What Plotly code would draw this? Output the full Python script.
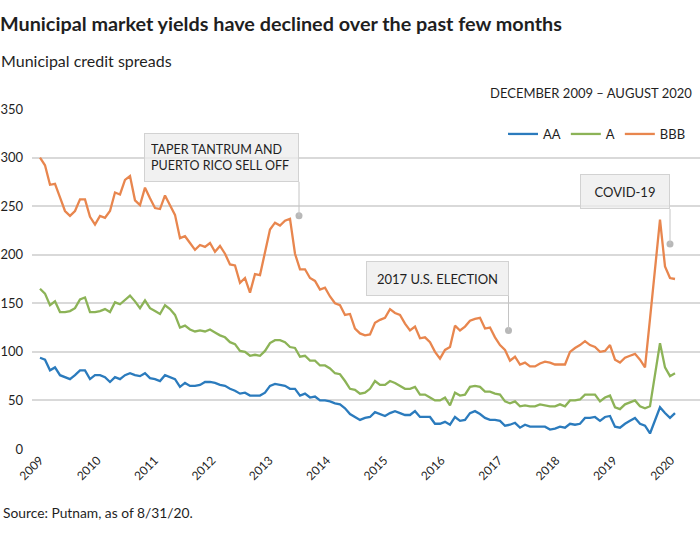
import plotly.graph_objects as go

# ---- data (monthly spreads, bps) ----
aa = [94, 92, 81, 84, 76, 74, 72, 76, 81, 81,
      72, 76, 76, 74, 69, 74, 72, 76, 78, 76,
      75, 78, 73, 72, 70, 76, 74, 72, 64, 68,
      65, 65, 66, 69, 69, 68, 66, 65, 62, 60,
      57, 58, 55, 55, 55, 58, 65, 67, 66, 65,
      62, 62, 55, 57, 53, 54, 50, 50, 49, 47,
      46, 42, 36, 33, 30, 32, 33, 38, 36, 34,
      37, 39, 37, 35, 35, 39, 33, 33, 33, 26,
      26, 28, 25, 33, 29, 30, 37, 39, 36, 32,
      30, 30, 29, 24, 25, 27, 22, 25, 23, 23,
      23, 23, 20, 21, 23, 22, 26, 25, 26, 32,
      32, 33, 29, 33, 34, 23, 22, 26, 29, 32,
      26, 24, 16, 30, 43, 37, 32, 37]
a = [165, 160, 148, 152, 141, 141, 142, 145, 154, 156,
     141, 141, 142, 144, 141, 151, 149, 154, 158, 152,
     145, 153, 145, 142, 139, 148, 144, 138, 125, 127,
     123, 121, 122, 121, 123, 120, 117, 115, 110, 108,
     101, 100, 96, 97, 96, 101, 109, 112, 112, 110,
     105, 104, 95, 96, 91, 91, 86, 86, 83, 78,
     77, 70, 62, 61, 57, 58, 62, 70, 66, 66,
     70, 68, 65, 62, 62, 64, 56, 56, 53, 50,
     50, 53, 45, 58, 55, 56, 64, 65, 64, 59,
     59, 57, 56, 49, 47, 49, 44, 45, 44, 44,
     46, 45, 44, 44, 46, 44, 50, 50, 51, 56,
     56, 56, 49, 53, 55, 43, 41, 46, 48, 50,
     44, 42, 44, 76, 109, 84, 75, 78]
bbb = [300, 292, 272, 273, 259, 245, 240, 245, 257, 257,
       239, 231, 240, 238, 245, 264, 262, 277, 281, 256,
       251, 269, 258, 248, 247, 261, 251, 241, 217, 219,
       212, 205, 210, 208, 212, 203, 209, 201, 190, 189,
       171, 176, 161, 180, 179, 201, 226, 233, 230, 235,
       237, 201, 185, 185, 176, 173, 164, 166, 157, 150,
       148, 138, 139, 124, 119, 117, 118, 130, 133, 135,
       144, 140, 138, 129, 122, 126, 114, 115, 110, 100,
       93, 102, 105, 127, 122, 126, 132, 134, 135, 124,
       125, 115, 107, 102, 91, 95, 87, 89, 85, 85,
       88, 90, 89, 87, 87, 87, 100, 104, 107, 111,
       107, 105, 100, 101, 107, 92, 89, 94, 96, 98,
       92, 84, 134, 185, 236, 188, 176, 175]

series_names = ["AA", "A", "BBB"]
series_colors = ["#2b7bbd", "#8cb357", "#e8864e"]

year_labels = ["2009", "2010", "2011", "2012", "2013", "2014",
               "2015", "2016", "2017", "2018", "2019", "2020"]

# annotations: (text, dot x index, dot value, box-bottom value)
events = [
    ("TAPER TANTRUM AND<br>PUERTO RICO SELL OFF", 51.8, 240, 275),
    ("2017 U.S. ELECTION", 93.7, 122, 157.5),
    ("COVID-19", 126.0, 211, 247),
]
event_style = [  # align, font size, box width, box height, pad
    ("left", 12.5, 155, 49, 6),
    ("center", 13, 143, 35, 7),
    ("center", 13, 90, 35, 7),
]

FONT = "Lato"
TXT = "#1f1f1f"

n = len(bbb)
x = list(range(n))

fig = go.Figure()
for name, col, vals in zip(series_names, series_colors, [aa, a, bbb]):
    fig.add_trace(go.Scatter(x=x, y=vals, mode="lines", name=name,
                             line=dict(color=col, width=2.3)))

# event dots
fig.add_trace(go.Scatter(x=[e[1] for e in events], y=[e[2] for e in events],
                         mode="markers", showlegend=False, hoverinfo="skip",
                         marker=dict(color="#b8b8b8", size=7)))

annotations = []
shapes = []
for (text, ex, ev, eb), (al, fs, bw, bh, pad) in zip(events, event_style):
    annotations.append(dict(
        x=ex, y=eb, xref="x", yref="y", xanchor="right", yanchor="bottom",
        text=text, showarrow=False, align=al,
        font=dict(family=FONT, size=fs, color=TXT),
        bgcolor="rgba(236,236,236,0.75)", bordercolor="#d2d2d2", borderwidth=1,
        borderpad=pad, width=bw - 2 * pad - 2, height=bh - 2 * pad - 2,
    ))
    shapes.append(dict(type="line", xref="x", yref="y", x0=ex, x1=ex,
                       y0=ev, y1=eb, line=dict(color="#c4c4c4", width=1)))

# text blocks
annotations += [
    dict(text="Municipal credit spreads", xref="paper", yref="paper",
         x=-33 / 670, y=1 + (108 - 60) / 342, xanchor="left", yanchor="middle",
         showarrow=False, font=dict(family=FONT, size=16, color=TXT)),
    dict(text="DECEMBER 2009 – AUGUST 2020", xref="paper", yref="paper",
         x=(694 - 30) / 670, y=1 + (108 - 93) / 342, xanchor="right", yanchor="middle",
         showarrow=False, font=dict(family=FONT, size=13, color=TXT)),
    dict(text="Source: Putnam, as of 8/31/20.", xref="paper", yref="paper",
         x=-31 / 670, y=-(512 - 450) / 342, xanchor="left", yanchor="middle",
         showarrow=False, font=dict(family=FONT, size=13.8, color=TXT)),
]

tick_step = 126.2 / 11
fig.update_layout(
    width=700, height=542,
    margin=dict(l=30, r=0, t=108, b=92),
    paper_bgcolor="white", plot_bgcolor="white",
    title=dict(text="<b>Municipal market yields have declined over the past few months</b>",
               xref="container", yref="container", x=0, xanchor="left",
               y=1 - 24 / 542, yanchor="middle",
               font=dict(family=FONT, size=19.8, color=TXT)),
    legend=dict(orientation="h", x=(691 - 30) / 670, xanchor="right",
                y=(450 - 134) / 342, yanchor="middle",
                font=dict(family=FONT, size=13, color=TXT),
                bgcolor="rgba(0,0,0,0)", itemwidth=30),
    xaxis=dict(range=[-1.6, 132], showgrid=False, zeroline=False, showline=False,
               tickmode="array",
               tickvals=[i * tick_step for i in range(len(year_labels))],
               ticktext=year_labels, tickangle=-45,
               tickfont=dict(family=FONT, size=12, color=TXT)),
    yaxis=dict(range=[-1, 351], tickmode="array",
               tickvals=[0, 50, 100, 150, 200, 250, 300, 350],
               showgrid=True, gridcolor="#d9d9d9", gridwidth=1.5,
               zeroline=False, showline=False, ticklabelstandoff=8,
               tickfont=dict(family=FONT, size=13, color=TXT)),
    annotations=annotations, shapes=shapes,
    showlegend=True,
)

fig.write_html("out.html", config={"displayModeBar": False},
               post_script="document.body.style.margin='0px';")
